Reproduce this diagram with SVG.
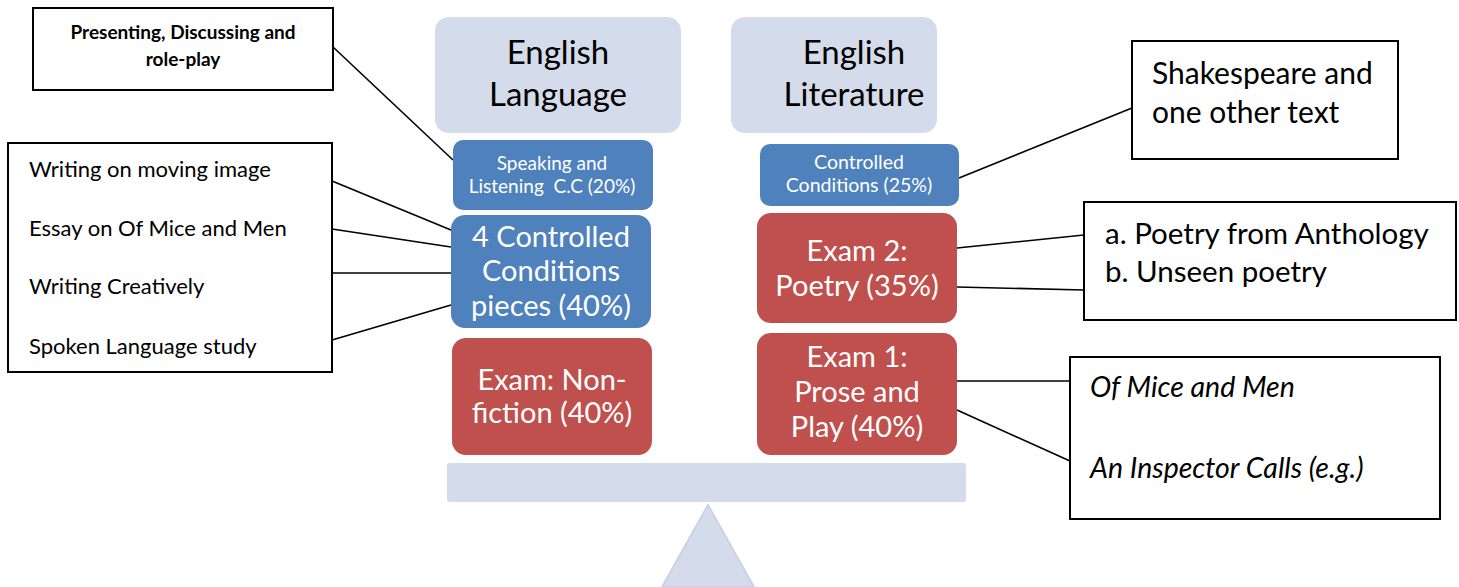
<svg xmlns="http://www.w3.org/2000/svg" width="1459" height="587" viewBox="0 0 1459 587">
<style>
text{font-family:Lato,"Open Sans","Liberation Sans",sans-serif;}
.box{fill:#fff;stroke:#000;stroke-width:2;}
.hdr{fill:#D4DCEB;}
.blue{fill:#4F81BD;}
.red{fill:#C0504D;}
.w{fill:#fff;text-anchor:middle;}
.k{fill:#000;}
.c{text-anchor:middle;}
.con line{stroke:#000;stroke-width:1.6;}
</style>
<g id="connectors" class="con">
<line x1="333" y1="47" x2="453" y2="160"/>
<line x1="332" y1="181" x2="451" y2="230"/>
<line x1="332" y1="229" x2="451" y2="247"/>
<line x1="332" y1="273" x2="451" y2="273"/>
<line x1="332" y1="340" x2="451" y2="305"/>
<line x1="959" y1="178" x2="1132" y2="108"/>
<line x1="957" y1="248" x2="1084" y2="235"/>
<line x1="957" y1="287" x2="1084" y2="290"/>
<line x1="957" y1="381" x2="1070" y2="381"/>
<line x1="957" y1="410" x2="1070" y2="461"/>
</g>
<g id="balance">
<rect x="447" y="463" width="519" height="39" rx="2" class="hdr"/>
<polygon points="708,505 662,587 754,587" class="hdr" stroke="#CAD3E6" stroke-width="2"/>
</g>
<g id="presenting">
<rect x="33" y="8" width="300" height="82" class="box"/>
<text x="183" y="39" class="c k" font-size="19" font-weight="bold">Presenting, Discussing and</text>
<text x="183" y="66" class="c k" font-size="19" font-weight="bold">role-play</text>
</g>
<g id="lang-list">
<rect x="8" y="143" width="324" height="229" class="box"/>
<text x="29" y="177" class="k" font-size="22">Writing on moving image</text>
<text x="29" y="236" class="k" font-size="22">Essay on Of Mice and Men</text>
<text x="29" y="294" class="k" font-size="22">Writing Creatively</text>
<text x="29" y="354" class="k" font-size="22">Spoken Language study</text>
</g>
<g id="english-language">
<rect x="435" y="17" width="246" height="116" rx="14" class="hdr"/>
<text x="558" y="64" class="c k" font-size="33">English</text>
<text x="558" y="106" class="c k" font-size="33">Language</text>
</g>
<g id="english-literature">
<rect x="731" y="17" width="206" height="116" rx="14" class="hdr"/>
<text x="854" y="64" class="c k" font-size="33">English</text>
<text x="854" y="106" class="c k" font-size="33">Literature</text>
</g>
<g id="speaking">
<rect x="453" y="140" width="200" height="70" rx="10" class="blue"/>
<text x="552" y="170" class="w" font-size="19">Speaking and</text>
<text x="552" y="193" class="w" font-size="19" xml:space="preserve">Listening  C.C (20%)</text>
</g>
<g id="controlled-4">
<rect x="451" y="215" width="200" height="113" rx="14" class="blue"/>
<text x="551" y="247" class="w" font-size="29">4 Controlled</text>
<text x="551" y="281" class="w" font-size="29">Conditions</text>
<text x="551" y="316" class="w" font-size="29">pieces (40%)</text>
</g>
<g id="exam-nonfiction">
<rect x="452" y="338" width="200" height="117" rx="14" class="red"/>
<text x="552" y="390" class="w" font-size="29">Exam: Non-</text>
<text x="552" y="423" class="w" font-size="29">fiction (40%)</text>
</g>
<g id="controlled-25">
<rect x="760" y="144" width="199" height="62" rx="10" class="blue"/>
<text x="859" y="169" class="w" font-size="19.5">Controlled</text>
<text x="859" y="192" class="w" font-size="19.5">Conditions (25%)</text>
</g>
<g id="exam2">
<rect x="757" y="213" width="200" height="110" rx="14" class="red"/>
<text x="857" y="261" class="w" font-size="29">Exam 2:</text>
<text x="857" y="296" class="w" font-size="29">Poetry (35%)</text>
</g>
<g id="exam1">
<rect x="757" y="333" width="200" height="122" rx="14" class="red"/>
<text x="857" y="367" class="w" font-size="29">Exam 1:</text>
<text x="857" y="402" class="w" font-size="29">Prose and</text>
<text x="857" y="437" class="w" font-size="29">Play (40%)</text>
</g>
<g id="shakespeare">
<rect x="1132" y="41" width="266" height="118" class="box"/>
<text x="1152" y="84" class="k" font-size="30">Shakespeare and</text>
<text x="1152" y="123" class="k" font-size="30">one other text</text>
</g>
<g id="poetry">
<rect x="1084" y="202" width="372" height="118" class="box"/>
<text x="1105" y="244" class="k" font-size="29.5">a. Poetry from Anthology</text>
<text x="1105" y="282" class="k" font-size="29.5">b. Unseen poetry</text>
</g>
<g id="texts">
<rect x="1070" y="357" width="370" height="162" class="box"/>
<text x="1090" y="397" class="k" font-size="28.5" font-style="italic">Of Mice and Men</text>
<text x="1090" y="478" class="k" font-size="28.5" font-style="italic">An Inspector Calls (e.g.)</text>
</g>
</svg>
